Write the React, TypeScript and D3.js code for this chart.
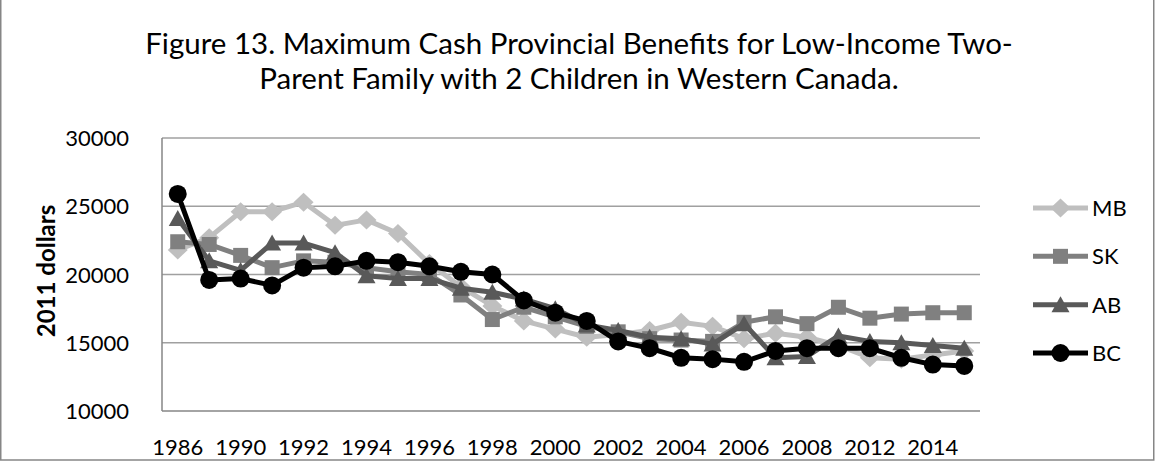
import React from 'react';
import * as d3 from 'd3';

const years = ['1986','1989','1990','1991','1992','1993','1994','1995','1996','1997','1998','1999','2000','2001','2002','2003','2004','2005','2006','2007','2008','2010','2012','2013','2014','2015'];
const mbValues = [21800,22700,24600,24600,25300,23600,24000,23000,20800,19100,17700,16600,16000,15400,15600,15900,16500,16200,15300,15700,15400,14800,13900,13800,14100,14400];
const skValues = [22400,22200,21400,20500,21000,20900,20500,20200,20000,18500,16700,17600,16900,16200,15800,15300,15200,15100,16500,16900,16400,17600,16800,17100,17200,17200];
const abValues = [24100,21000,20300,22300,22300,21600,19900,19700,19700,19000,18700,18200,17500,16300,15900,15400,15300,14900,16400,13900,14000,15500,15100,15000,14800,14600];
const bcValues = [25900,19600,19700,19200,20500,20600,21000,20900,20600,20200,20000,18100,17200,16600,15100,14600,13900,13800,13600,14400,14600,14600,14600,13900,13400,13300];
const seriesNames = ['MB','SK','AB','BC'];
const yTicks = [10000,15000,20000,25000,30000];
const titleLines = ['Figure 13. Maximum Cash Provincial Benefits for Low-Income Two-','Parent Family with 2 Children in Western Canada.'];
const yAxisTitle = '2011 dollars';

const FONT = "Lato, 'Open Sans', sans-serif";

type Marker = 'diamond' | 'square' | 'triangle' | 'circle';

function markerPath(type: Marker, cx: number, cy: number): string {
  const p = d3.path();
  if (type === 'diamond') {
    p.moveTo(cx, cy - 9.5); p.lineTo(cx + 10, cy); p.lineTo(cx, cy + 9.5); p.lineTo(cx - 10, cy); p.closePath();
  } else if (type === 'square') {
    p.rect(cx - 7.5, cy - 7.5, 15, 15);
  } else if (type === 'triangle') {
    p.moveTo(cx, cy - 8.5); p.lineTo(cx + 9, cy + 7.5); p.lineTo(cx - 9, cy + 7.5); p.closePath();
  } else {
    p.arc(cx, cy, 9, 0, Math.PI * 2);
  }
  return p.toString();
}

export default function App() {
  const W = 1157, H = 462;
  const x = d3.scalePoint<string>().domain(years).range([162, 980]).padding(0.5);
  const y = d3.scaleLinear().domain([10000, 30000]).range([411, 138]);
  const series = [
    { name: seriesNames[0], values: mbValues, color: '#bfbfbf', marker: 'diamond' as Marker },
    { name: seriesNames[1], values: skValues, color: '#808080', marker: 'square' as Marker },
    { name: seriesNames[2], values: abValues, color: '#595959', marker: 'triangle' as Marker },
    { name: seriesNames[3], values: bcValues, color: '#000000', marker: 'circle' as Marker },
  ];
  const line = d3.line<number>().x((_, i) => x(years[i]) as number).y(d => y(d));
  const legendY = d3.scalePoint<string>().domain(seriesNames).range([208, 353]);

  return (
    <svg width={W} height={H} style={{ position: 'absolute', left: 0, top: 0, background: '#fff' }} fontFamily={FONT}>
      <rect x={0} y={0} width={W} height={H} fill="#fff" />
      <rect x={0.75} y={-3} width={1153} height={463} fill="none" stroke="#868686" strokeWidth={1.5} />
      {titleLines.map((t, i) => (
        <text key={i} x={579} y={54 + i * 35} textAnchor="middle" fontSize={29.5} fill="#000">{t}</text>
      ))}
      {yTicks.map(t => (
        <g key={t}>
          {t > 10000 && <line x1={162} x2={980} y1={y(t)} y2={y(t)} stroke="#a0a0a0" strokeWidth={1.4} />}
          <text x={129} y={y(t) + 8} textAnchor="end" fontSize={22} fill="#000">{t}</text>
        </g>
      ))}
      <line x1={162} x2={162} y1={y(30000)} y2={y(10000)} stroke="#868686" strokeWidth={1.5} />
      <line x1={162} x2={980} y1={y(10000)} y2={y(10000)} stroke="#868686" strokeWidth={1.5} />
      <text transform={`translate(55,271) rotate(-90)`} textAnchor="middle" fontSize={24} fontWeight="bold" fill="#000">{yAxisTitle}</text>
      {years.map((yr, i) => i % 2 === 0 ? (
        <text key={yr} x={x(yr)} y={455} textAnchor="middle" fontSize={22} fill="#000">{yr}</text>
      ) : null)}
      {series.map(s => (
        <g key={s.name}>
          <path d={line(s.values) || ''} fill="none" stroke={s.color} strokeWidth={5} strokeLinejoin="round" />
          {s.values.map((v, i) => (
            <path key={i} d={markerPath(s.marker, x(years[i]) as number, y(v))} fill={s.color} />
          ))}
        </g>
      ))}
      {series.map(s => {
        const ly = legendY(s.name) as number;
        return (
          <g key={'lg' + s.name}>
            <line x1={1033} x2={1088} y1={ly} y2={ly} stroke={s.color} strokeWidth={5} />
            <path d={markerPath(s.marker, 1060.5, ly)} fill={s.color} />
            <text x={1092} y={ly + 8} fontSize={22} fill="#000">{s.name}</text>
          </g>
        );
      })}
    </svg>
  );
}
